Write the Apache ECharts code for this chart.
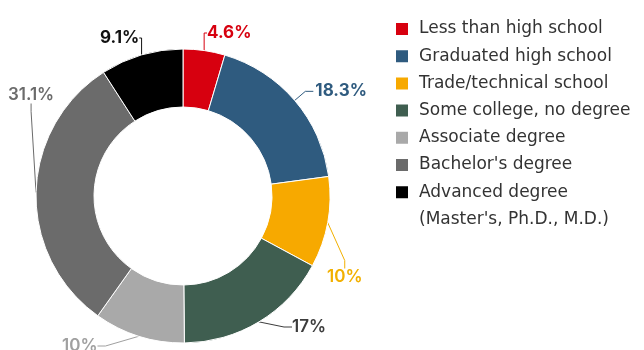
<!DOCTYPE html>
<html>
<head>
<meta charset="utf-8">
<script src="https://cdn.jsdelivr.net/npm/echarts@6/dist/echarts.min.js"></script>
<style>
html,body{margin:0;padding:0;background:#fff;}
#chart{width:644px;height:350px;}
</style>
</head>
<body>
<div id="chart"></div>
<script>
const categories = [
  "Less than high school",
  "Graduated high school",
  "Trade/technical school",
  "Some college, no degree",
  "Associate degree",
  "Bachelor's degree",
  "Advanced degree"
];
const legendSecondLine = "(Master's, Ph.D., M.D.)";
const values = [4.6, 18.3, 10, 17, 10, 31.1, 9.1];
const valueLabels = ["4.6%", "18.3%", "10%", "17%", "10%", "31.1%", "9.1%"];
const colors = ["#d7000f", "#2f5b7f", "#f7a900", "#3f5e50", "#a9a9a9", "#6b6b6b", "#000000"];
const labelColors = ["#d7000f", "#2f5b7f", "#f2b000", "#3c3c3c", "#a0a0a0", "#6b6b6b", "#111111"];
const labelBold = [true, true, false, false, false, false, true];

const FONT = "'DejaVu Sans', sans-serif";
const LFONT = "Inter, 'Open Sans', sans-serif";

const chart = echarts.init(document.getElementById('chart'), null, { renderer: 'canvas' });

const pieData = categories.map((c, i) => ({
  name: c,
  value: values[i],
  itemStyle: { color: colors[i] },
  label: {
    color: labelColors[i],
    fontWeight: labelBold[i] ? 700 : 600,
    formatter: valueLabels[i]
  },
  labelLine: { lineStyle: { color: labelColors[i] } }
}));

// manual label placements (text positions only)
const labelSpots = {
  5: { x: 8, y: 95, align: 'left', verticalAlign: 'middle' },
  2: { x: 327, y: 277, align: 'left', verticalAlign: 'middle' },
  3: { x: 292, y: 327, align: 'left', verticalAlign: 'middle' },
  4: { x: 62, y: 346, align: 'left', verticalAlign: 'middle' },
  6: { x: 100, y: 38, align: 'left', verticalAlign: 'middle' },
  0: { x: 207, y: 33, align: 'left', verticalAlign: 'middle' }
};

chart.setOption({
  animation: false,
  backgroundColor: '#fff',
  color: colors,
  legend: {
    orient: 'vertical',
    left: 389,
    top: 14,
    itemWidth: 24,
    itemHeight: 14,
    itemGap: 7.2,
    selectedMode: false,
    icon: 'path://M0,0 L10,0 L10,10 L0,10 Z',
    data: categories,
    textStyle: {
      fontFamily: FONT,
      fontSize: 17,
      lineHeight: 20,
      color: '#333333'
    }
  },
  graphic: [{
    type: 'text',
    left: 419,
    top: 210,
    style: {
      text: legendSecondLine,
      fontFamily: FONT,
      fontSize: 17,
      lineHeight: 20,
      fill: '#333333'
    }
  }],
  series: [{
    type: 'pie',
    center: [183, 196],
    radius: [89, 147],
    startAngle: 90,
    clockwise: true,
    avoidLabelOverlap: true,
    itemStyle: { borderColor: '#ffffff', borderWidth: 1 },
    label: {
      show: true,
      position: 'outside',
      fontFamily: LFONT,
      fontSize: 17,
      overflow: 'none',
      distanceToLabelLine: 2
    },
    labelLine: { show: true, length: 14, length2: 8, lineStyle: { width: 1 } },
    labelLayout: function (params) {
      return labelSpots[params.dataIndex] || {};
    },
    data: pieData
  }]
});
</script>
</body>
</html>
